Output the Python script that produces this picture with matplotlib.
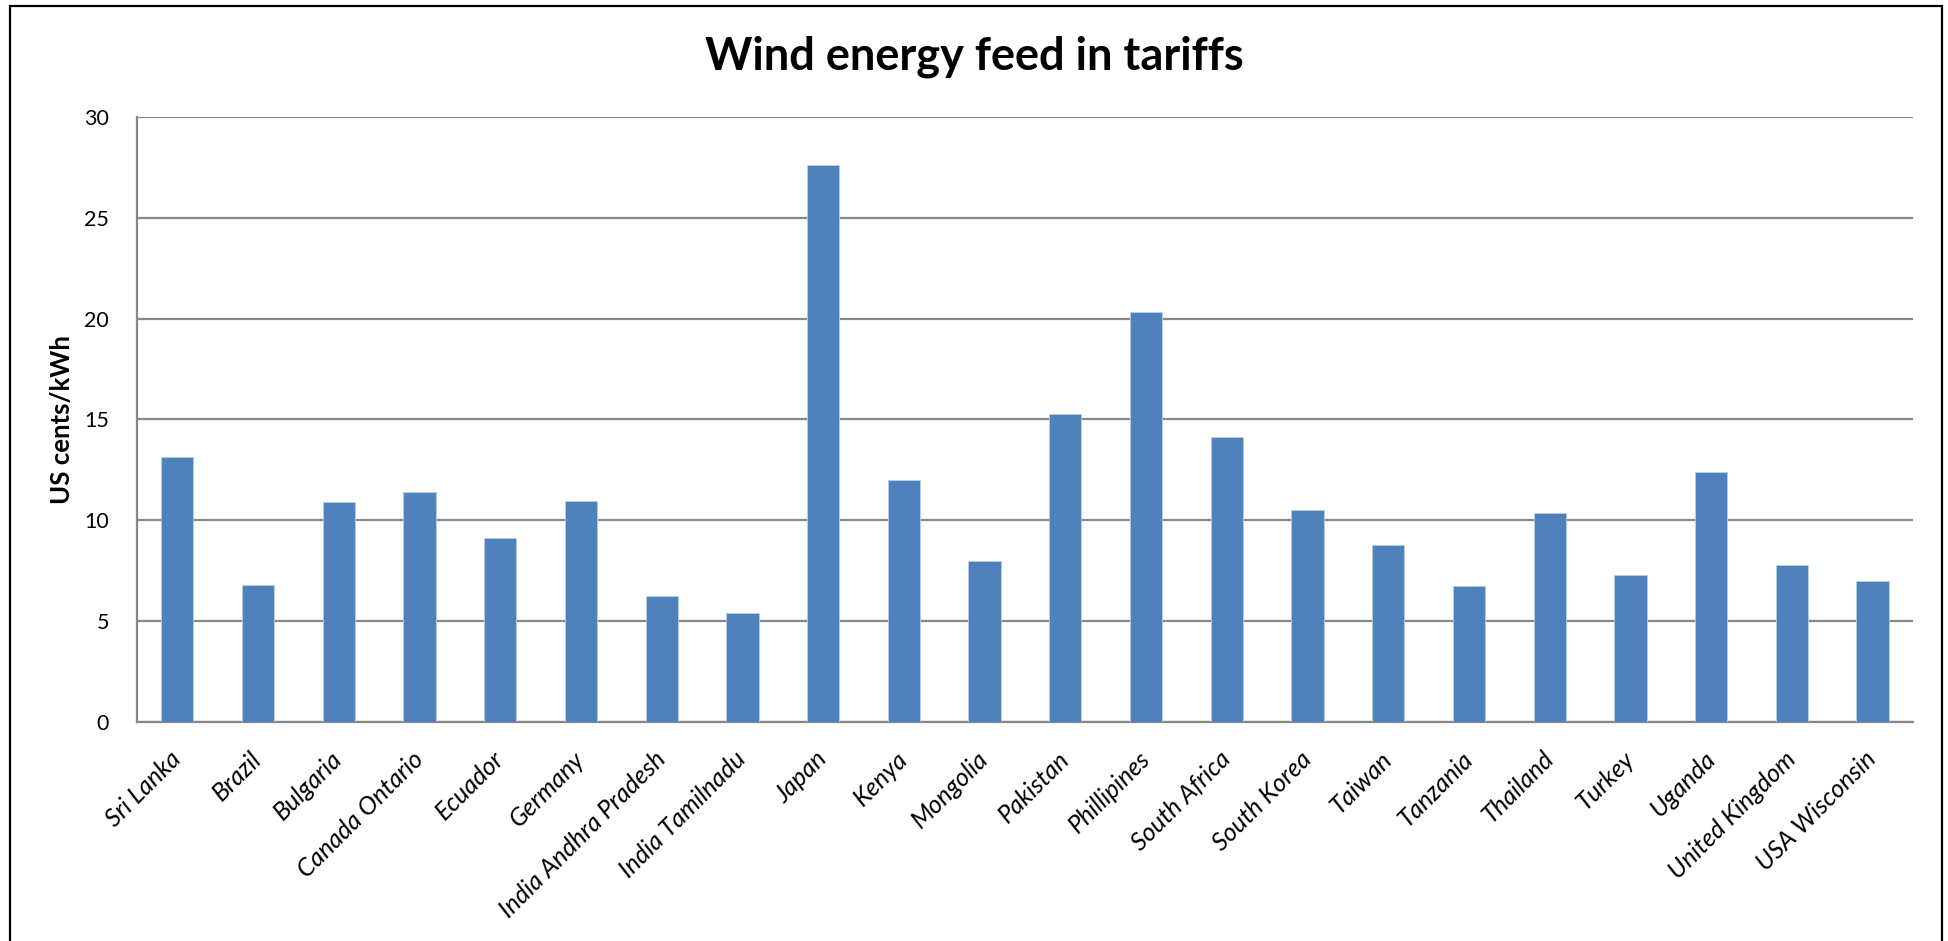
import matplotlib
matplotlib.use("Agg")
import matplotlib.pyplot as plt
from matplotlib.patches import Rectangle

# Feed-in tariffs for wind energy, US cents per kWh
countries = [
    "Sri Lanka", "Brazil", "Bulgaria", "Canada Ontario", "Ecuador", "Germany",
    "India Andhra Pradesh", "India Tamilnadu", "Japan", "Kenya", "Mongolia",
    "Pakistan", "Phillipines", "South Africa", "South Korea", "Taiwan",
    "Tanzania", "Thailand", "Turkey", "Uganda", "United Kingdom", "USA Wisconsin",
]
tariffs = [
    13.14, 6.78, 10.91, 11.40, 9.11, 10.97,
    6.27, 5.40, 27.63, 12.00, 7.98,
    15.29, 20.31, 14.13, 10.53, 8.76,
    6.74, 10.38, 7.31, 12.40, 7.79, 6.99,
]
y_ticks = [0, 5, 10, 15, 20, 25, 30]

title = "Wind energy feed in tariffs"
y_label = "US cents/kWh"

FONT = "Lato"
BAR_COLOR = "#4F81BD"
GRID_COLOR = "#888888"

fig = plt.figure(figsize=(19.48, 9.41), dpi=100)
ax = fig.add_axes([0.0703, 0.2327, 0.9117, 0.643])

positions = range(len(countries))
ax.bar(positions, tariffs, width=0.4, color=BAR_COLOR,
       edgecolor="#B9CDE5", linewidth=0.6, zorder=3)

ax.set_xlim(-0.5, len(countries) - 0.5)
ax.set_ylim(0, 30)
ax.set_yticks(y_ticks)
ax.set_yticklabels([str(t) for t in y_ticks], fontfamily=FONT, fontsize=15.5)
ax.yaxis.grid(True, color=GRID_COLOR, linewidth=1.6, zorder=0)
ax.set_axisbelow(True)

ax.set_xticks(list(positions))
ax.set_xticklabels(countries, rotation=45, ha="right", va="center",
                   rotation_mode="anchor", fontfamily=FONT,
                   fontstyle="italic", fontsize=18)

ax.tick_params(axis="y", length=0, pad=20)
ax.tick_params(axis="x", length=0, pad=24)

for side in ("top", "right"):
    ax.spines[side].set_visible(False)
for side in ("left", "bottom"):
    ax.spines[side].set_color(GRID_COLOR)
    ax.spines[side].set_linewidth(1.6)

ax.set_ylabel(y_label, fontfamily=FONT, fontweight="bold", fontsize=18.5,
              va="center")
ax.yaxis.set_label_coords(-0.042, 0.5)

fig.text(0.5, 0.94, title, ha="center", va="center", fontfamily=FONT,
         fontweight="bold", fontsize=32.5)

# Chart-area frame around everything
fig.add_artist(Rectangle((0.0051, -0.05), 0.9918, 1.0436,
                         transform=fig.transFigure, fill=False,
                         edgecolor="black", linewidth=1.6, clip_on=False))

fig.savefig("out.png", dpi=100, facecolor="white")
